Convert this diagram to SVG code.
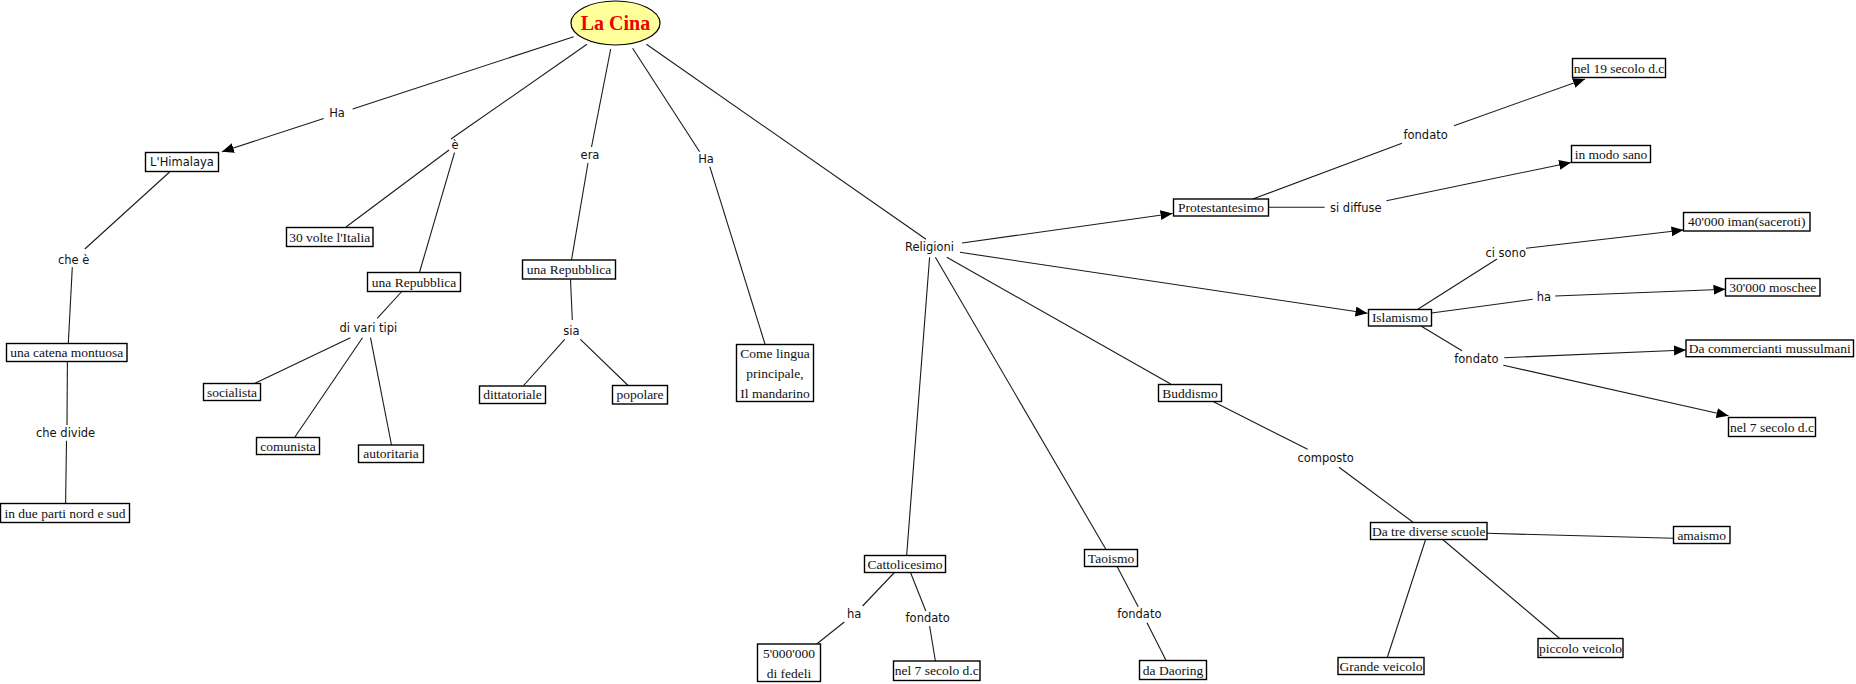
<svg xmlns="http://www.w3.org/2000/svg" width="1856" height="684" viewBox="0 0 1856 684">
<style>
.bg{fill:#ffffff}
.node rect{fill:#ffffff;stroke:#000000;stroke-width:1.4}
.node text{font-family:"Liberation Serif","Times New Roman",serif;font-size:13.5px;fill:#111111;text-anchor:middle}
.node text.s{font-family:"DejaVu Sans",Verdana,sans-serif;font-size:11.5px}
.lab text{font-family:"DejaVu Sans",Verdana,sans-serif;font-size:11.5px;fill:#111111;text-anchor:middle}
#connectors line{stroke:#1a1a1a;stroke-width:1.1;fill:none}
#connectors line.a{marker-end:url(#arr)}
</style>
<defs>
<marker id="arr" markerUnits="userSpaceOnUse" markerWidth="13" markerHeight="11" refX="12" refY="5" orient="auto">
<path d="M0,0 L12,5 L0,10 z" fill="#000000"/>
</marker>
</defs>
<rect class="bg" x="0" y="0" width="1856" height="684"/>

<g id="connectors">
<line x1="573.7" y1="36.7" x2="352.7" y2="109"/>
<line class="a" x1="323.7" y1="118.5" x2="221.9" y2="151.7"/>
<line x1="587" y1="44.3" x2="451" y2="139"/>
<line x1="449" y1="150" x2="346" y2="227"/>
<line x1="454.5" y1="152.7" x2="419.6" y2="272"/>
<line x1="610.7" y1="49" x2="591.5" y2="147"/>
<line x1="588" y1="163" x2="571.5" y2="260"/>
<line x1="632.6" y1="48.3" x2="699.6" y2="151.7"/>
<line x1="709.8" y1="166.7" x2="765" y2="344"/>
<line x1="646.4" y1="44.3" x2="926" y2="239.3"/>
<line class="a" x1="962" y1="243" x2="1172.5" y2="213.5"/>
<line class="a" x1="960" y1="252.3" x2="1367.5" y2="313.3"/>
<line x1="946.8" y1="257.3" x2="1170.7" y2="384"/>
<line x1="935.4" y1="257.3" x2="1105.7" y2="549"/>
<line x1="929.6" y1="257.3" x2="906.7" y2="555"/>
<line x1="169.6" y1="172" x2="84.8" y2="249"/>
<line x1="72.3" y1="267.3" x2="68.3" y2="343.5"/>
<line x1="67.4" y1="361.5" x2="67" y2="425"/>
<line x1="66.5" y1="440.7" x2="65.6" y2="503.5"/>
<line x1="401.8" y1="291.5" x2="377.2" y2="318.3"/>
<line x1="350.4" y1="337.7" x2="254.5" y2="383.5"/>
<line x1="362.5" y1="337.7" x2="294.6" y2="437.5"/>
<line x1="370.5" y1="337.7" x2="391.5" y2="445"/>
<line x1="570.5" y1="279.5" x2="572.3" y2="320"/>
<line x1="564.7" y1="339.3" x2="523.2" y2="386"/>
<line x1="580.4" y1="339.3" x2="628.1" y2="385.5"/>
<line x1="1252.7" y1="199" x2="1402" y2="143.3"/>
<line class="a" x1="1454" y1="125.7" x2="1585" y2="79"/>
<line x1="1268.5" y1="207.3" x2="1324.7" y2="207.3"/>
<line class="a" x1="1386.4" y1="200.7" x2="1571" y2="162.5"/>
<line x1="1417.4" y1="309.5" x2="1497" y2="259"/>
<line class="a" x1="1526" y1="248.3" x2="1683.5" y2="230"/>
<line x1="1431.5" y1="313" x2="1532.7" y2="299.3"/>
<line class="a" x1="1555.2" y1="296" x2="1725.5" y2="289.3"/>
<line x1="1421" y1="326" x2="1462" y2="350.7"/>
<line class="a" x1="1504.3" y1="357.7" x2="1686" y2="350"/>
<line class="a" x1="1503.4" y1="365.3" x2="1728.5" y2="415.8"/>
<line x1="1213" y1="401.5" x2="1307.6" y2="449.3"/>
<line x1="1339" y1="467.3" x2="1413.4" y2="522.5"/>
<line x1="1487" y1="533.3" x2="1673.5" y2="538.3"/>
<line x1="1425.6" y1="539.5" x2="1387.3" y2="657.5"/>
<line x1="1442.7" y1="539.5" x2="1559.7" y2="638.5"/>
<line x1="894.4" y1="572.5" x2="862.6" y2="606"/>
<line x1="844.3" y1="622" x2="816.7" y2="644"/>
<line x1="910.5" y1="572.5" x2="925.8" y2="611"/>
<line x1="929.6" y1="626" x2="935.4" y2="661"/>
<line x1="1117.1" y1="566.5" x2="1138.2" y2="606.7"/>
<line x1="1147" y1="622.7" x2="1166.1" y2="660.5"/>
</g>

<g id="n-lacina" class="node">
<ellipse cx="615.5" cy="23" rx="44.5" ry="22" fill="#ffff99" stroke="#000000" stroke-width="1.2"/>
<text x="615.5" y="30" style="font-weight:bold;font-size:20px;fill:#ee0000">La Cina</text>
</g>

<g id="l-ha1" class="lab"><text x="337" y="117">Ha</text></g>
<g id="l-e" class="lab"><text x="455" y="149">è</text></g>
<g id="l-era" class="lab"><text x="590" y="159">era</text></g>
<g id="l-ha2" class="lab"><text x="706" y="163">Ha</text></g>
<g id="n-religioni" class="lab"><text x="929.5" y="251">Religioni</text></g>
<g id="l-chee" class="lab"><text x="73.7" y="264">che è</text></g>
<g id="l-chedivide" class="lab"><text x="65.6" y="437">che divide</text></g>
<g id="l-varitipi" class="lab"><text x="368.3" y="331.5">di vari tipi</text></g>
<g id="l-sia" class="lab"><text x="571.4" y="335">sia</text></g>
<g id="l-fondato1" class="lab"><text x="1425.6" y="139">fondato</text></g>
<g id="l-sidiffuse" class="lab"><text x="1355.8" y="211.5">si diffuse</text></g>
<g id="l-cisono" class="lab"><text x="1505.7" y="257">ci sono</text></g>
<g id="l-ha3" class="lab"><text x="1544" y="301">ha</text></g>
<g id="l-fondato2" class="lab"><text x="1476.4" y="363">fondato</text></g>
<g id="l-composto" class="lab"><text x="1325.6" y="461.5">composto</text></g>
<g id="l-ha4" class="lab"><text x="854.2" y="618">ha</text></g>
<g id="l-fondato3" class="lab"><text x="927.7" y="622">fondato</text></g>
<g id="l-fondato4" class="lab"><text x="1139.3" y="618">fondato</text></g>

<g id="n-himalaya" class="node"><rect x="145.5" y="152.5" width="73" height="19"/><text class="s" x="182" y="166">L'Himalaya</text></g>
<g id="n-30volte" class="node"><rect x="286.5" y="227.5" width="86.5" height="19"/><text x="329.75" y="241.5">30 volte l'Italia</text></g>
<g id="n-repL" class="node"><rect x="367.5" y="272.5" width="93" height="19"/><text x="414" y="286.5">una Repubblica</text></g>
<g id="n-socialista" class="node"><rect x="203.5" y="383.5" width="57" height="17"/><text x="232" y="396.5">socialista</text></g>
<g id="n-comunista" class="node"><rect x="256.5" y="437.5" width="63" height="17"/><text x="288" y="450.5">comunista</text></g>
<g id="n-autoritaria" class="node"><rect x="358.5" y="445" width="65" height="17.5"/><text x="391" y="458.2">autoritaria</text></g>
<g id="n-repR" class="node"><rect x="522.5" y="260" width="93" height="19"/><text x="569" y="274">una Repubblica</text></g>
<g id="n-dittatoriale" class="node"><rect x="479.5" y="386" width="66" height="17.5"/><text x="512.5" y="399.2">dittatoriale</text></g>
<g id="n-popolare" class="node"><rect x="612.5" y="385.5" width="55" height="18.5"/><text x="640" y="399">popolare</text></g>
<g id="n-lingua" class="node"><rect x="736.5" y="344.5" width="77" height="57"/><text x="775" y="357.8">Come lingua</text><text x="775" y="378.2">principale,</text><text x="775" y="398.2">Il mandarino</text></g>
<g id="n-catena" class="node"><rect x="6.5" y="343.5" width="120.5" height="18"/><text x="66.75" y="357">una catena montuosa</text></g>
<g id="n-dueparti" class="node"><rect x="0.5" y="503.5" width="129" height="19"/><text x="65" y="517.5">in due parti nord e sud</text></g>
<g id="n-protestantesimo" class="node"><rect x="1173.5" y="199" width="95" height="17"/><text x="1221" y="212">Protestantesimo</text></g>
<g id="n-nel19" class="node"><rect x="1572.5" y="58.5" width="93" height="19"/><text x="1619" y="72.5">nel 19 secolo d.c</text></g>
<g id="n-modosano" class="node"><rect x="1571.5" y="145.5" width="79" height="17"/><text x="1611" y="158.5">in modo sano</text></g>
<g id="n-iman" class="node"><rect x="1683.5" y="212.5" width="126.5" height="18.5"/><text x="1746.75" y="226.2">40'000 iman(saceroti)</text></g>
<g id="n-islamismo" class="node"><rect x="1368.5" y="309.5" width="63" height="16.5"/><text x="1400" y="322.2">Islamismo</text></g>
<g id="n-moschee" class="node"><rect x="1725.5" y="278.5" width="94.5" height="17.5"/><text x="1772.75" y="291.7">30'000 moschee</text></g>
<g id="n-commercianti" class="node"><rect x="1686" y="340" width="167.5" height="16.7"/><text x="1769.75" y="352.8">Da commercianti mussulmani</text></g>
<g id="n-nel7i" class="node"><rect x="1728.5" y="417.5" width="87" height="19"/><text x="1772" y="431.5">nel 7 secolo d.c</text></g>
<g id="n-buddismo" class="node"><rect x="1158.5" y="384.5" width="63" height="17"/><text x="1190" y="397.5">Buddismo</text></g>
<g id="n-datre" class="node"><rect x="1370.5" y="522.5" width="116.5" height="17"/><text x="1428.75" y="535.5">Da tre diverse scuole</text></g>
<g id="n-amaismo" class="node"><rect x="1673.5" y="526.5" width="56.5" height="17"/><text x="1701.75" y="539.5">amaismo</text></g>
<g id="n-grande" class="node"><rect x="1338" y="657.5" width="86" height="17"/><text x="1381" y="670.5">Grande veicolo</text></g>
<g id="n-piccolo" class="node"><rect x="1538" y="638.5" width="85" height="19"/><text x="1580.5" y="652.5">piccolo veicolo</text></g>
<g id="n-cattolicesimo" class="node"><rect x="864.5" y="555.5" width="81" height="17"/><text x="905" y="568.5">Cattolicesimo</text></g>
<g id="n-fedeli" class="node"><rect x="757.5" y="644" width="63" height="37.5"/><text x="789" y="657.8">5'000'000</text><text x="789" y="677.8">di fedeli</text></g>
<g id="n-nel7c" class="node"><rect x="893.5" y="661" width="86.5" height="19.5"/><text x="936.75" y="675.2">nel 7 secolo d.c</text></g>
<g id="n-taoismo" class="node"><rect x="1084.5" y="549.5" width="53" height="17"/><text x="1111" y="562.5">Taoismo</text></g>
<g id="n-daoring" class="node"><rect x="1139.5" y="660.5" width="67" height="19"/><text x="1173" y="674.5">da Daoring</text></g>
</svg>
